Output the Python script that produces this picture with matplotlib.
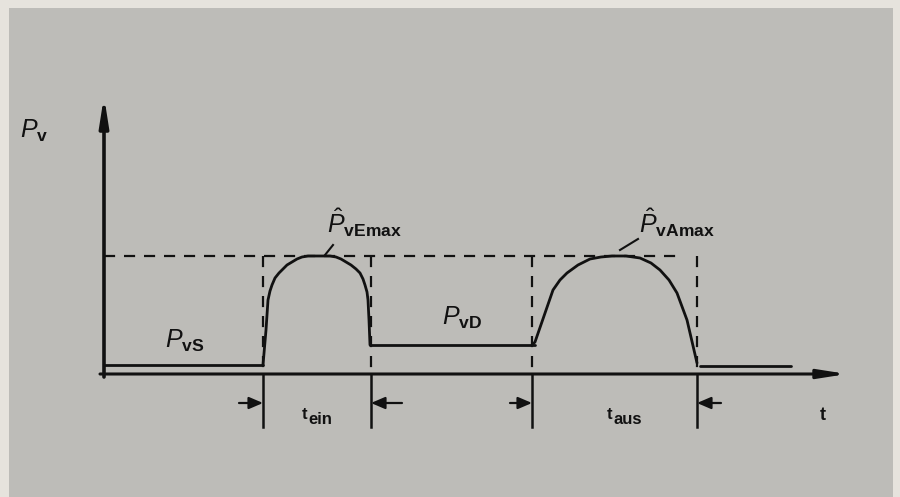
import matplotlib
matplotlib.use("Agg")
import matplotlib.pyplot as plt
from matplotlib.patches import Rectangle

plt.rcParams['mathtext.fontset'] = 'custom'
plt.rcParams['mathtext.rm'] = 'Liberation Sans'
plt.rcParams['mathtext.it'] = 'Liberation Sans:italic'
plt.rcParams['mathtext.bf'] = 'Liberation Sans:bold'
plt.rcParams['font.family'] = ['Liberation Sans', 'DejaVu Sans']

# ---- data (time t, power P_v in arbitrary schematic units) ----
P_vS = 9
P_vD = 29
P_after = 8
P_max = 118

t_ein_start = 159
t_ein_end = 267
t_aus_start = 428
t_aus_end = 593
t_end = 687
t_axis_end = 743
P_axis_top = 278

# switch-on pulse
on_t = [159, 162, 164, 166, 168, 171, 175, 179, 183, 188, 193, 198, 204, 215,
        226, 232, 237, 242, 247, 252, 256, 259, 261, 263, 264, 265, 266]
on_P = [9, 44, 74, 83, 89, 96, 101, 105, 109, 112, 115, 117, 118, 118,
        118, 117, 115, 112, 109, 105, 101, 95, 89, 82, 74, 54, 29]

# switch-off pulse
off_t = [431, 440, 449, 456, 463, 474, 486, 497, 508, 522, 536, 547, 556, 565, 573, 583, 593]
off_P = [32, 58, 84, 94, 101, 109, 115, 117, 118, 118, 116, 111, 104, 94, 81, 54, 11]

dim_y = -29
dim_bottom = -53

fig = plt.figure(figsize=(9, 4.97), dpi=100)
fig.patch.set_facecolor('#e6e3dd')
ax = fig.add_axes([0, 0, 1, 1])
ax.set_facecolor('none')
ax.set_xlim(-104, 796)
ax.set_ylim(-123, 374)
ax.axis('off')
ax.add_patch(Rectangle((9/900, 0), (893-9)/900, (497-8)/497,
                       transform=fig.transFigure, facecolor='#bdbcb8',
                       edgecolor='none', zorder=0))

k = '#111111'
# axes with arrows
ax.annotate('', xy=(0, P_axis_top), xytext=(0, -3),
            arrowprops=dict(arrowstyle='-|>,head_length=1.4,head_width=0.22',
                            color=k, lw=2.6, shrinkA=0, shrinkB=0, mutation_scale=12), zorder=3)
ax.annotate('', xy=(t_axis_end, 0), xytext=(-4, 0),
            arrowprops=dict(arrowstyle='-|>,head_length=1.4,head_width=0.22',
                            color=k, lw=2.2, shrinkA=0, shrinkB=0, mutation_scale=12), zorder=3)

lw = 2.0
line = dict(color=k, lw=lw, solid_capstyle='round', solid_joinstyle='round', zorder=3)
ax.plot([0, t_ein_start], [P_vS, P_vS], **line)
ax.plot(on_t, on_P, **line)
ax.plot([on_t[-1], off_t[0]], [P_vD, P_vD], **line)
ax.plot([off_t[0] - 3] + off_t, [P_vD] + off_P, **line)
ax.plot([off_t[-1] + 3, t_end], [P_after, P_after], **line)

# dashed envelope
dash = dict(color=k, lw=1.6, dashes=(5, 4), zorder=3)
ax.plot([0, 572], [P_max, P_max], **dash)
for tv in [t_ein_start, t_ein_end, t_aus_start, t_aus_end]:
    ax.plot([tv, tv], [P_max, 0], **dash)
    ax.plot([tv, tv], [0, dim_bottom], color=k, lw=1.8, zorder=3)

# dimension arrows
def dim_arrow(x_to, x_from):
    ax.annotate('', xy=(x_to, dim_y), xytext=(x_from, dim_y),
                arrowprops=dict(arrowstyle='-|>,head_length=0.7,head_width=0.3',
                                color=k, lw=1.6, shrinkA=0, shrinkB=0, mutation_scale=12),
                zorder=3)

dim_arrow(t_ein_start, t_ein_start - 24)
dim_arrow(t_ein_end, t_ein_end + 31)
dim_arrow(t_aus_start, t_aus_start - 22)
dim_arrow(t_aus_end, t_aus_end + 24)

# leader lines
ax.plot([221, 229], [119, 129], color=k, lw=1.5, zorder=3)
ax.plot([516, 534], [124, 135], color=k, lw=1.5, zorder=3)

fs = 18
tk = dict(ha='left', va='baseline', color=k, zorder=4)
ax.text(-84, 236, r'$P_{\mathbf{v}}$', fontsize=fs, **tk)
ax.text(61, 26, r'$P_{\mathbf{vS}}$', fontsize=fs, **tk)
ax.text(223, 141, r'$\hat{P}_{\mathbf{vEmax}}$', fontsize=fs, **tk)
ax.text(338, 49, r'$P_{\mathbf{vD}}$', fontsize=fs, **tk)
ax.text(535, 141, r'$\hat{P}_{\mathbf{vAmax}}$', fontsize=fs, **tk)

ax.text(198, -45, 't', fontsize=12, fontweight='bold', **tk)
ax.text(204, -50, 'ein', fontsize=12, fontweight='bold', **tk)
ax.text(503, -45, 't', fontsize=12, fontweight='bold', **tk)
ax.text(509, -50, 'aus', fontsize=12, fontweight='bold', **tk)
ax.text(716, -46, 't', fontsize=13, fontweight='bold', **tk)

fig.savefig('out.png', dpi=100, facecolor=fig.get_facecolor())
